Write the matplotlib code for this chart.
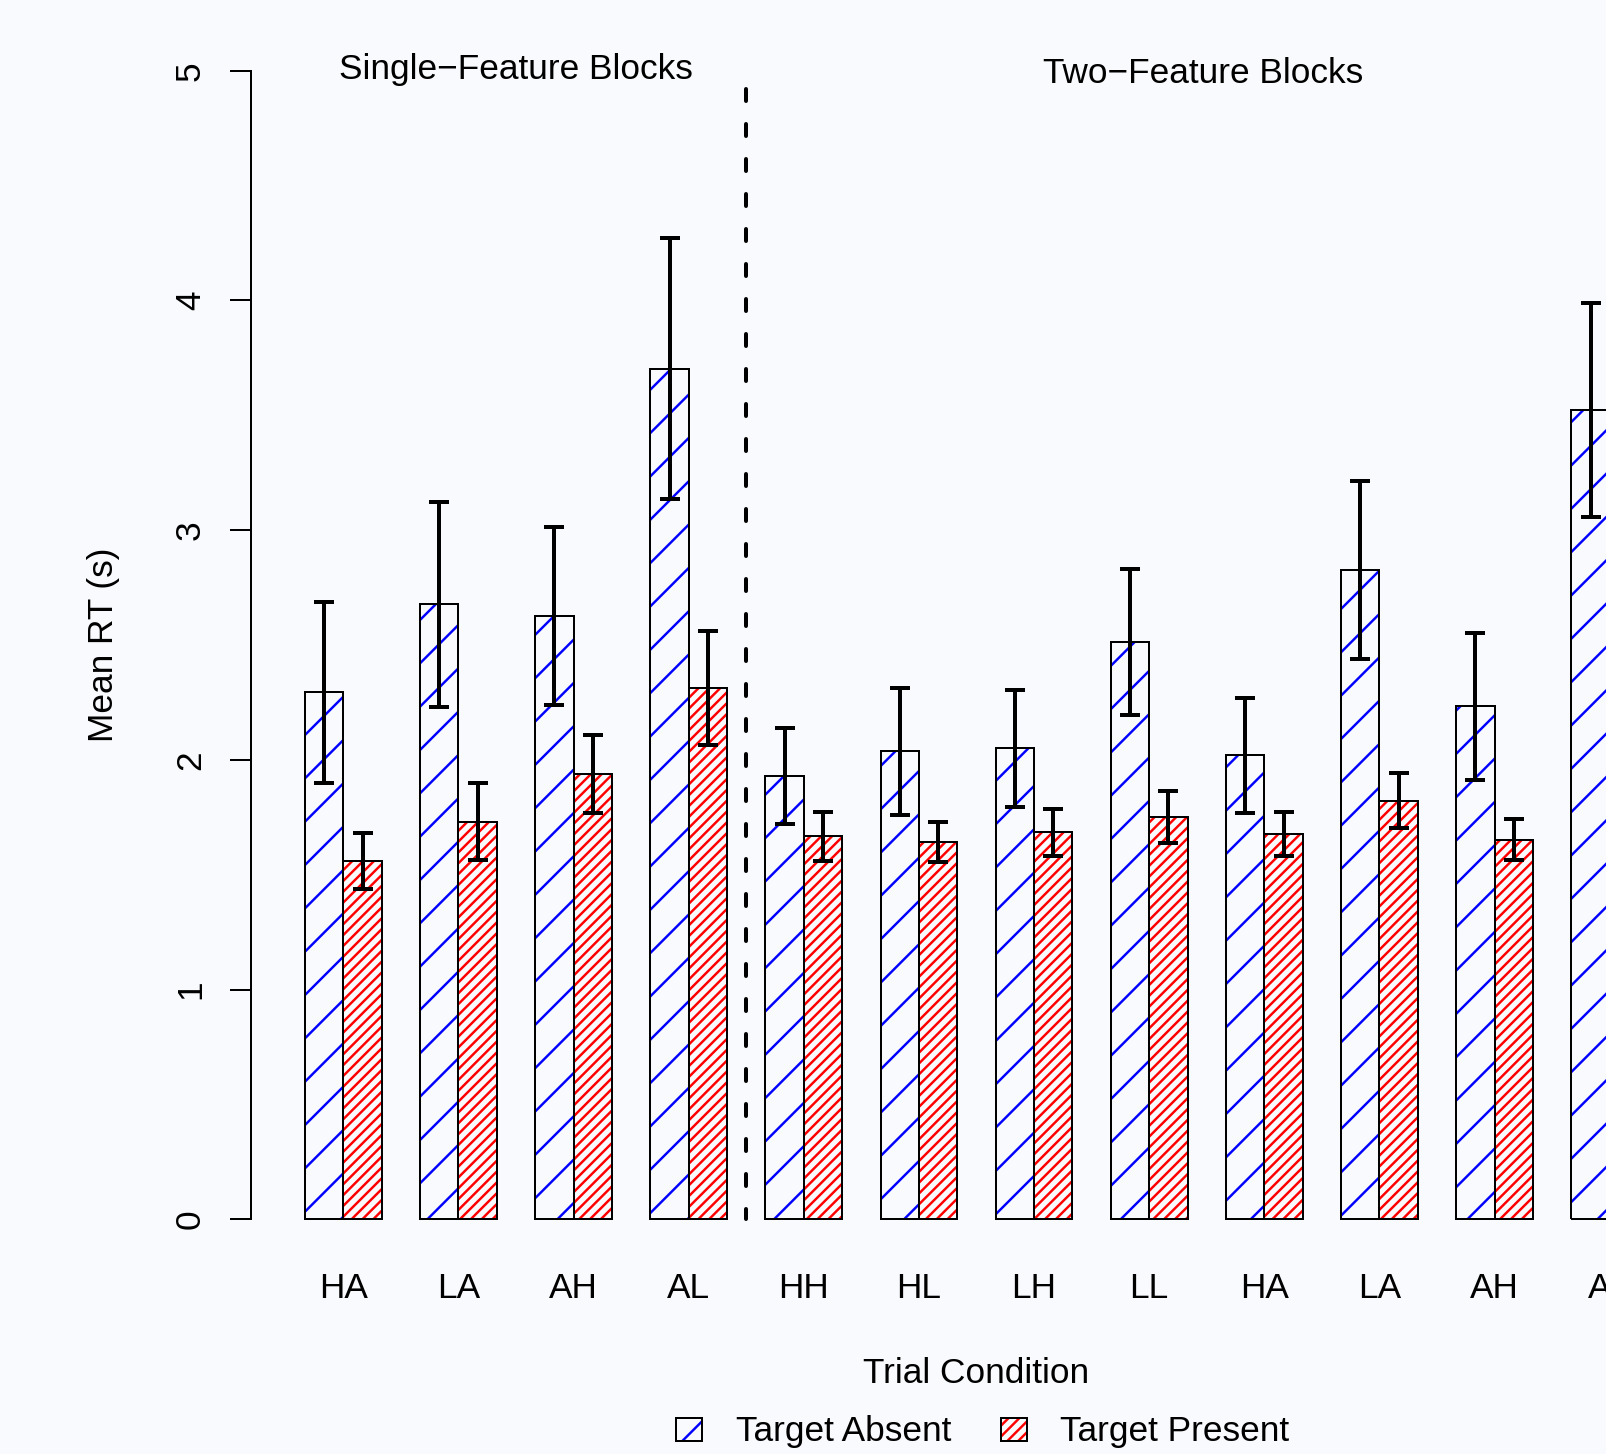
#!/usr/bin/env python3
"""Mean RT by trial condition, single- vs two-feature blocks (R barplot look)."""

import matplotlib
matplotlib.use("Agg")
import matplotlib.pyplot as plt
from matplotlib.patches import Rectangle
from matplotlib.transforms import blended_transform_factory
import numpy as np

# --- data -------------------------------------------------------------------
conditions = ["HA", "LA", "AH", "AL", "HH", "HL", "LH", "LL", "HA", "LA", "AH", "AL"]
absent_mean = [2.294, 2.677, 2.626, 3.703, 1.930, 2.037, 2.050, 2.513, 2.019, 2.826, 2.233, 3.523]
absent_err = [0.394, 0.446, 0.387, 0.569, 0.210, 0.277, 0.254, 0.319, 0.250, 0.389, 0.321, 0.464]
present_mean = [1.560, 1.731, 1.938, 2.311, 1.667, 1.644, 1.684, 1.751, 1.676, 1.823, 1.653, 2.050]
present_err = [0.120, 0.167, 0.169, 0.248, 0.107, 0.087, 0.101, 0.114, 0.096, 0.121, 0.089, 0.150]
y_ticks = [0, 1, 2, 3, 4, 5]
block_labels = ["Single\u2212Feature Blocks", "Two\u2212Feature Blocks"]
legend_labels = ["Target Absent", "Target Present"]

# --- geometry (pixels of the 1606x1454 output) ------------------------------
W, H, DPI = 1606, 1454, 130
X0_PX, X_UNIT = 266.6, 38.375      # data x=0 and px per bar width
Y0_PX, Y_UNIT = 1219.3, 229.72     # data y=0 and px per second
BG = "#f9fafd"
FONT = 19.5
PX = 72.0 / DPI                    # points per pixel

plt.rcParams["font.family"] = ["Liberation Sans", "DejaVu Sans"]
plt.rcParams["hatch.linewidth"] = 1.35


def fx(px):
    return px / W


def fy(py):
    return 1.0 - py / H


fig = plt.figure(figsize=(W / DPI, H / DPI), dpi=DPI, facecolor=BG)
x_lo, x_hi = -0.4, (W - X0_PX) / X_UNIT
y_lo, y_hi = -0.2, 5.2
left_px = X0_PX + x_lo * X_UNIT
top_px = Y0_PX - y_hi * Y_UNIT
bottom_px = Y0_PX - y_lo * Y_UNIT
ax = fig.add_axes([fx(left_px), fy(bottom_px), fx(W - left_px), (bottom_px - top_px) / H])
ax.set_facecolor("none")
ax.set_xlim(x_lo, x_hi)
ax.set_ylim(y_lo, y_hi)

n = len(conditions)
group_left = 1 + 3 * np.arange(n)
blue_left = group_left
red_left = group_left + 1

edge_lw = 2 * PX
ax.bar(blue_left, absent_mean, width=1, align="edge", color="none",
       edgecolor="#0000ff", hatch="/", linewidth=0)
ax.bar(red_left, present_mean, width=1, align="edge", color="none",
       edgecolor="#ff0000", hatch="////", linewidth=0)
ax.bar(blue_left, absent_mean, width=1, align="edge", fill=False,
       edgecolor="black", linewidth=edge_lw)
ax.bar(red_left, present_mean, width=1, align="edge", fill=False,
       edgecolor="black", linewidth=edge_lw)

err_lw = 4 * PX
for lefts, means, errs in ((blue_left, absent_mean, absent_err),
                           (red_left, present_mean, present_err)):
    ax.errorbar(lefts + 0.5, means, yerr=errs, fmt="none", ecolor="black",
                elinewidth=err_lw, capsize=20 * PX / 2, capthick=err_lw)

# separator between the two block types
ax.plot([12.5, 12.5], [(Y0_PX - 89) / Y_UNIT, 0], color="black", lw=err_lw,
        linestyle=(0, (3, 5.75)), dash_capstyle="round")

# block titles
ax.text(6.5, (Y0_PX - 79.3) / Y_UNIT, block_labels[0], ha="center", va="baseline", fontsize=FONT)
ax.text(24.4, (Y0_PX - 83.3) / Y_UNIT, block_labels[1], ha="center", va="baseline", fontsize=FONT)

# axes styling
for side in ("top", "right", "bottom"):
    ax.spines[side].set_visible(False)
ax.spines["left"].set_bounds(0, 5)
ax.spines["left"].set_linewidth(edge_lw)
ax.set_xticks([])
ax.set_yticks(y_ticks)
ax.set_yticklabels([])
ax.tick_params(axis="y", length=21.5 * PX, width=edge_lw, color="black")

fig_y = blended_transform_factory(fig.transFigure, ax.transData)
for t in y_ticks:
    ax.text(fx(200), t, str(t), transform=fig_y, rotation=90, rotation_mode="anchor",
            ha="center", va="baseline", fontsize=FONT)
ax.text(fx(113), 2.5, "Mean RT (s)", transform=fig_y, rotation=90, rotation_mode="anchor",
        ha="center", va="baseline", fontsize=FONT)

data_x = blended_transform_factory(ax.transData, fig.transFigure)
for i, name in enumerate(conditions):
    ax.text(group_left[i] + 1, fy(1298), name, transform=data_x, ha="center",
            va="baseline", fontsize=FONT, clip_on=False)
ax.text((x_lo + 37.4) / 2, fy(1383), "Trial Condition", transform=data_x,
        ha="center", va="baseline", fontsize=FONT)

# legend drawn by hand in pixel positions
box_w, box_h = 26, 23
for bx, tx, label, color, hatch in ((676, 736, legend_labels[0], "#0000ff", "/"),
                                    (1001, 1060, legend_labels[1], "#ff0000", "////")):
    fig.add_artist(Rectangle((fx(bx), fy(1441)), box_w / W, box_h / H, transform=fig.transFigure,
                             facecolor="none", edgecolor=color, hatch=hatch, linewidth=0))
    fig.add_artist(Rectangle((fx(bx), fy(1441)), box_w / W, box_h / H, transform=fig.transFigure,
                             fill=False, edgecolor="black", linewidth=edge_lw))
    fig.text(fx(tx), fy(1441), label, ha="left", va="baseline", fontsize=FONT)

fig.savefig("out.png", dpi=DPI, facecolor=BG)
